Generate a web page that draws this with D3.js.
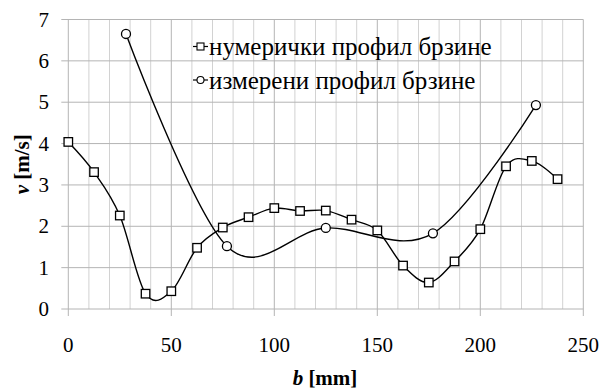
<!DOCTYPE html>
<html>
<head>
<meta charset="utf-8">
<script src="https://cdn.jsdelivr.net/npm/d3@7"></script>
</head>
<body style="margin:0">
<svg id="chart" width="602" height="390"></svg>
<script>
// Numerical velocity profile (every 12.5 mm)
const numericB = [0, 12.5, 25, 37.5, 50, 62.5, 75, 87.5, 100, 112.5, 125, 137.5, 150, 162.5, 175, 187.5, 200, 212.5, 225, 237.5];
const numericV = [4.04, 3.31, 2.26, 0.37, 0.43, 1.48, 1.97, 2.22, 2.44, 2.37, 2.38, 2.16, 1.90, 1.05, 0.64, 1.15, 1.93, 3.45, 3.58, 3.14];

// Measured velocity profile
const measuredB = [28, 77, 125, 177, 227];
const measuredV = [6.65, 1.52, 1.96, 1.83, 4.93];

const xTicks = [0, 50, 100, 150, 200, 250];
const yTicks = [0, 1, 2, 3, 4, 5, 6, 7];
const xMinor = d3.range(0, 251, 10);

const seriesNames = ["нумерички профил брзине", "измерени профил брзине"];

const svg = d3.select("#chart");
const W = 602, H = 390;
const margin = { left: 68.3, right: W - 583.3, top: 19.5, bottom: H - 309 };

const x = d3.scaleLinear().domain([0, 250]).range([margin.left, W - margin.right]);
const y = d3.scaleLinear().domain([0, 7]).range([H - margin.bottom, margin.top]);

// serif text helper
function serif(sel) {
  return sel.style("font-family", '"Liberation Serif"');
}

const grid = svg.append("g");

// minor vertical gridlines
grid.selectAll("line.vmin")
  .data(xMinor.filter(d => d % 50 !== 0))
  .join("line")
  .attr("x1", d => x(d)).attr("x2", d => x(d))
  .attr("y1", y(0)).attr("y2", y(7))
  .attr("stroke", "#d2d2d2").attr("stroke-width", 1);

// major vertical gridlines with tick marks below the axis
grid.selectAll("line.vmaj")
  .data(xTicks)
  .join("line")
  .attr("x1", d => x(d)).attr("x2", d => x(d))
  .attr("y1", y(0) + 7).attr("y2", y(7))
  .attr("stroke", "#b4b4b4").attr("stroke-width", 1);

// horizontal gridlines with tick marks to the left
grid.selectAll("line.h")
  .data(yTicks)
  .join("line")
  .attr("x1", x(0) - 7).attr("x2", x(250))
  .attr("y1", d => y(d)).attr("y2", d => y(d))
  .attr("stroke", "#b4b4b4").attr("stroke-width", 1);

// tick labels
yTicks.forEach(d => {
  serif(svg.append("text"))
    .attr("x", 49).attr("y", y(d) + 7)
    .attr("text-anchor", "end")
    .attr("font-size", 21)
    .text(d);
});
xTicks.forEach(d => {
  serif(svg.append("text"))
    .attr("x", x(d)).attr("y", 352)
    .attr("text-anchor", "middle")
    .attr("font-size", 21)
    .text(d);
});

// axis titles
const xt = serif(svg.append("text"))
  .attr("x", 325).attr("y", 385)
  .attr("text-anchor", "middle")
  .attr("font-size", 21).attr("font-weight", "bold");
xt.append("tspan").attr("font-style", "italic").text("b");
xt.append("tspan").text(" [mm]");

const yt = serif(svg.append("text"))
  .attr("transform", `translate(29,${(y(0) + y(7)) / 2}) rotate(-90)`)
  .attr("text-anchor", "middle")
  .attr("font-size", 21).attr("font-weight", "bold");
yt.append("tspan").attr("font-style", "italic").text("v");
yt.append("tspan").text(" [m/s]");

// smoothed lines
const line = d3.line()
  .x(d => x(d[0])).y(d => y(d[1]))
  .curve(d3.curveCardinal.tension(0));

const numeric = numericB.map((b, i) => [b, numericV[i]]);
const measured = measuredB.map((b, i) => [b, measuredV[i]]);

svg.append("path").datum(measured)
  .attr("d", line).attr("fill", "none")
  .attr("stroke", "#000").attr("stroke-width", 1.4);
svg.append("path").datum(numeric)
  .attr("d", line).attr("fill", "none")
  .attr("stroke", "#000").attr("stroke-width", 1.4);

// markers
const sq = 8.5;
svg.append("g").selectAll("rect")
  .data(numeric)
  .join("rect")
  .attr("x", d => x(d[0]) - sq / 2).attr("y", d => y(d[1]) - sq / 2)
  .attr("width", sq).attr("height", sq)
  .attr("fill", "#fff").attr("stroke", "#000").attr("stroke-width", 1.3);

svg.append("g").selectAll("circle")
  .data(measured)
  .join("circle")
  .attr("cx", d => x(d[0])).attr("cy", d => y(d[1]))
  .attr("r", 4.5)
  .attr("fill", "#fff").attr("stroke", "#000").attr("stroke-width", 1.3);

// legend
const legendRows = [46.5, 80];
legendRows.forEach((ly, i) => {
  svg.append("line")
    .attr("x1", 193).attr("x2", 208).attr("y1", ly).attr("y2", ly)
    .attr("stroke", "#000").attr("stroke-width", 1.2);
  if (i === 0) {
    svg.append("rect")
      .attr("x", 200.5 - 3.5).attr("y", ly - 3.5).attr("width", 7).attr("height", 7)
      .attr("fill", "#fff").attr("stroke", "#000").attr("stroke-width", 1.1);
  } else {
    svg.append("circle")
      .attr("cx", 200.5).attr("cy", ly).attr("r", 3.5)
      .attr("fill", "#fff").attr("stroke", "#000").attr("stroke-width", 1.1);
  }
  serif(svg.append("text"))
    .attr("x", 209).attr("y", ly + 8.5)
    .attr("font-size", 25)
    .text(seriesNames[i]);
});
</script>
</body>
</html>
